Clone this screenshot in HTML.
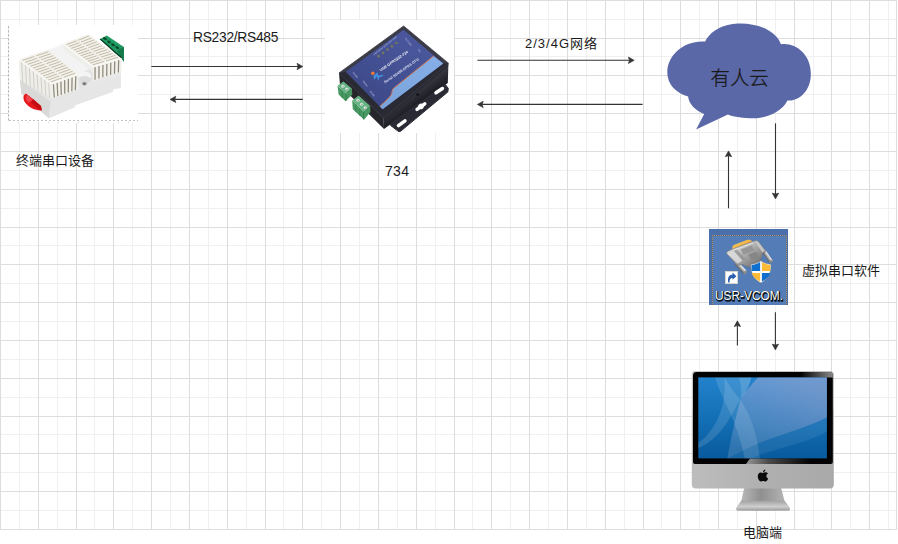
<!DOCTYPE html>
<html lang="zh-CN">
<head>
<meta charset="utf-8">
<title>734 串口组网示意图</title>
<style>
html,body{margin:0;padding:0;background:#fff;}
body{width:898px;height:544px;overflow:hidden;position:relative;font-family:"Liberation Sans","Noto Sans CJK SC",sans-serif;color:#1a1a1a;}
#canvas{position:absolute;left:0;top:0;width:898px;height:544px;}
#canvas svg{display:block;}
.t{position:absolute;white-space:nowrap;font-size:13px;line-height:16px;height:16px;margin:0;}
.c{text-align:center;}
#l1{left:193px;top:30px;font-size:13.8px;letter-spacing:-0.28px;}
#l2{left:525px;top:36px;letter-spacing:1.0px;}
#l3{left:16px;top:153px;}
#l4{left:385px;top:163px;font-size:14px;letter-spacing:0.3px;}
#l5{left:802px;top:263px;}
#l6{left:743px;top:525px;}
#l7{left:710.6px;top:64px;font-size:19.4px;line-height:28px;height:28px;color:#1a1a1a;font-weight:300;-webkit-text-stroke:0.3px #1a1a1a;}

</style>
</head>
<body>
<div id="canvas">
<svg width="898" height="544" viewBox="0 0 898 544">
<rect width="898" height="544" fill="#ffffff"/>
<g id="grid">
<path d="M19 0h1v530h-1zM57 0h1v530h-1zM94 0h1v530h-1zM132 0h1v530h-1zM170 0h1v530h-1zM208 0h1v530h-1zM246 0h1v530h-1zM283 0h1v530h-1zM321 0h1v530h-1zM359 0h1v530h-1zM397 0h1v530h-1zM435 0h1v530h-1zM472 0h1v530h-1zM510 0h1v530h-1zM548 0h1v530h-1zM586 0h1v530h-1zM624 0h1v530h-1zM661 0h1v530h-1zM699 0h1v530h-1zM737 0h1v530h-1zM775 0h1v530h-1zM813 0h1v530h-1zM850 0h1v530h-1zM888 0h1v530h-1zM0 19h897v1h-897zM0 56h897v1h-897zM0 94h897v1h-897zM0 132h897v1h-897zM0 170h897v1h-897zM0 208h897v1h-897zM0 245h897v1h-897zM0 283h897v1h-897zM0 321h897v1h-897zM0 359h897v1h-897zM0 397h897v1h-897zM0 434h897v1h-897zM0 472h897v1h-897zM0 510h897v1h-897z" fill="#f0f0f0" shape-rendering="crispEdges"/>
<path d="M0 0h1v530h-1zM38 0h1v530h-1zM76 0h1v530h-1zM113 0h1v530h-1zM151 0h1v530h-1zM189 0h1v530h-1zM227 0h1v530h-1zM265 0h1v530h-1zM302 0h1v530h-1zM340 0h1v530h-1zM378 0h1v530h-1zM416 0h1v530h-1zM454 0h1v530h-1zM491 0h1v530h-1zM529 0h1v530h-1zM567 0h1v530h-1zM605 0h1v530h-1zM643 0h1v530h-1zM680 0h1v530h-1zM718 0h1v530h-1zM756 0h1v530h-1zM794 0h1v530h-1zM831 0h1v530h-1zM869 0h1v530h-1zM0 0h897v1h-897zM0 38h897v1h-897zM0 75h897v1h-897zM0 113h897v1h-897zM0 151h897v1h-897zM0 189h897v1h-897zM0 227h897v1h-897zM0 264h897v1h-897zM0 302h897v1h-897zM0 340h897v1h-897zM0 378h897v1h-897zM0 416h897v1h-897zM0 453h897v1h-897zM0 491h897v1h-897zM0 529h897v1h-897zM896 0h1v530h-1z" fill="#dddddd" shape-rendering="crispEdges"/>
</g>
<g id="sensor">
<defs>
<filter id="sblur" x="-5%" y="-5%" width="110%" height="110%"><feGaussianBlur stdDeviation="0.45"/></filter>
<linearGradient id="sbase" x1="0" y1="0" x2="1" y2="0"><stop offset="0" stop-color="#e2e2e2"/><stop offset="1" stop-color="#e9e9e9"/></linearGradient>
</defs>
<rect x="8" y="25" width="130" height="98" fill="#ffffff"/>
<path d="M8.5 26V120.5" fill="none" stroke="#b9b9b9" stroke-width="1" stroke-dasharray="2.7 1.3"/>
<path d="M9 120.5H138" fill="none" stroke="#c2c2c2" stroke-width="1" stroke-dasharray="2 2"/>
<path d="M18 122.5H138" fill="none" stroke="#d0d0d0" stroke-width="1" stroke-dasharray="1 9"/>
<path d="M137.5 30V120" fill="none" stroke="#f1f1f1" stroke-width="1" stroke-dasharray="1 9"/>
<g filter="url(#sblur)">
<path d="M19.60 60.00L20.00 80.00L21.50 94.00L48.80 118.20L74.50 107.20L75.50 105.00L113.00 91.80L113.30 89.00L120.60 88.00L121.30 59.00L92.00 66.00L78.00 75.00L52.00 84.00z" fill="url(#sbase)" />
<path d="M20.00 80.00L21.50 94.00L48.80 118.20L50.50 101.50z" fill="#d9d9d7" />
<path d="M50.50 101.50L48.80 118.20L74.50 107.20L75.50 105.00L113.00 91.80L113.30 89.00L120.60 88.00L121.00 76.00L80.00 90.00z" fill="#e6e6e6" />
<path d="M48.40 50.00L63.40 44.00L93.00 66.80L93.00 80.00L80.00 90.00L78.60 74.40z" fill="#f3f3f3" />
<path d="M78.00 75.00L93.00 66.50L93.00 80.00L80.00 90.00z" fill="#e3e3e3" />
<ellipse cx="84.5" cy="76" rx="6.5" ry="4.6" fill="#f4f4f4"/>
<ellipse cx="84.5" cy="79.5" rx="6" ry="3.6" fill="#dcdcdc"/>
<ellipse cx="84.4" cy="83.6" rx="2.3" ry="1.9" fill="#9b9b9b"/>
<ellipse cx="84.4" cy="83.9" rx="1.2" ry="1" fill="#6f6f6f"/>
<path d="M26 93.5 C22.5 95 22.8 99.5 25.5 103 C29 107.5 35 110.8 41.8 110.4 L41 106 L33 99 Z" fill="#e5161b"/>
<path d="M27 95 C25 97 26 100.5 28.5 103 L33 99.5 Z" fill="#f0434a"/>
<path d="M33 99 L41 106 L41.8 110.4 L39 109.5 L31 102.5 Z" fill="#c50f14"/>
<path d="M99.70 39.30L106.80 35.60L123.90 47.10L123.90 61.80L121.60 58.60z" fill="#1d9a60" />
<path d="M117.00 50.50L123.90 47.10L123.90 61.80L121.60 58.60z" fill="#15794a" />
<path d="M99.70 39.30L100.80 38.80L122.20 57.40L121.60 58.90z" fill="#0c3d27" />
<ellipse cx="104.9" cy="38.6" rx="2.1" ry="1.25" transform="rotate(25 104.9 38.6)" fill="#0b4a2c"/>
<ellipse cx="108.9" cy="41.9" rx="2.1" ry="1.25" transform="rotate(25 108.9 41.9)" fill="#0b4a2c"/>
<ellipse cx="113.1" cy="44.8" rx="2.1" ry="1.25" transform="rotate(25 113.1 44.8)" fill="#0b4a2c"/>
<ellipse cx="117.3" cy="47.6" rx="2.1" ry="1.25" transform="rotate(25 117.3 47.6)" fill="#0b4a2c"/>
<path d="M63.20 43.80L88.20 34.00L121.60 58.40L92.90 66.80z" fill="#f3f1ec" />
<path d="M66.85 44.58L76.44 40.89" stroke="#bcb59f" stroke-width="0.9" stroke-linecap="round"/>
<path d="M78.71 40.02L88.55 36.23" stroke="#bcb59f" stroke-width="0.9" stroke-linecap="round"/>
<path d="M69.23 46.41L78.93 42.77" stroke="#bcb59f" stroke-width="0.9" stroke-linecap="round"/>
<path d="M81.23 41.90L91.18 38.16" stroke="#bcb59f" stroke-width="0.9" stroke-linecap="round"/>
<path d="M71.61 48.25L81.42 44.64" stroke="#bcb59f" stroke-width="0.9" stroke-linecap="round"/>
<path d="M83.74 43.79L93.81 40.09" stroke="#bcb59f" stroke-width="0.9" stroke-linecap="round"/>
<path d="M73.99 50.08L83.91 46.52" stroke="#bcb59f" stroke-width="0.9" stroke-linecap="round"/>
<path d="M86.26 45.67L96.44 42.02" stroke="#bcb59f" stroke-width="0.9" stroke-linecap="round"/>
<path d="M76.36 51.91L86.40 48.39" stroke="#bcb59f" stroke-width="0.9" stroke-linecap="round"/>
<path d="M88.78 47.56L99.08 43.94" stroke="#bcb59f" stroke-width="0.9" stroke-linecap="round"/>
<path d="M78.74 53.75L88.89 50.27" stroke="#bcb59f" stroke-width="0.9" stroke-linecap="round"/>
<path d="M91.29 49.44L101.71 45.87" stroke="#bcb59f" stroke-width="0.9" stroke-linecap="round"/>
<path d="M81.12 55.58L91.38 52.14" stroke="#bcb59f" stroke-width="0.9" stroke-linecap="round"/>
<path d="M93.81 51.33L104.34 47.80" stroke="#bcb59f" stroke-width="0.9" stroke-linecap="round"/>
<path d="M83.50 57.41L93.87 54.02" stroke="#bcb59f" stroke-width="0.9" stroke-linecap="round"/>
<path d="M96.32 53.21L106.97 49.73" stroke="#bcb59f" stroke-width="0.9" stroke-linecap="round"/>
<path d="M85.87 59.25L96.36 55.89" stroke="#bcb59f" stroke-width="0.9" stroke-linecap="round"/>
<path d="M98.84 55.10L109.60 51.66" stroke="#bcb59f" stroke-width="0.9" stroke-linecap="round"/>
<path d="M88.25 61.08L98.84 57.77" stroke="#bcb59f" stroke-width="0.9" stroke-linecap="round"/>
<path d="M101.35 56.98L112.23 53.59" stroke="#bcb59f" stroke-width="0.9" stroke-linecap="round"/>
<path d="M90.63 62.91L101.33 59.64" stroke="#bcb59f" stroke-width="0.9" stroke-linecap="round"/>
<path d="M103.87 58.87L114.86 55.52" stroke="#bcb59f" stroke-width="0.9" stroke-linecap="round"/>
<path d="M93.01 64.75L103.82 61.52" stroke="#bcb59f" stroke-width="0.9" stroke-linecap="round"/>
<path d="M106.39 60.76L117.49 57.45" stroke="#bcb59f" stroke-width="0.9" stroke-linecap="round"/>
<path d="M63.20 43.80L92.90 66.80L92.90 72.00L63.40 50.00z" fill="#eeeeea" />
<path d="M92.90 66.80L121.60 58.40L121.30 72.00L92.90 81.00z" fill="#f1f0eb" />
<path d="M95.06 67.47L95.04 79.32" stroke="#8d897a" stroke-width="1.25" stroke-linecap="round"/>
<path d="M98.99 66.32L98.93 78.09" stroke="#8d897a" stroke-width="1.25" stroke-linecap="round"/>
<path d="M102.93 65.17L102.82 76.86" stroke="#8d897a" stroke-width="1.25" stroke-linecap="round"/>
<path d="M106.86 64.02L106.71 75.62" stroke="#8d897a" stroke-width="1.25" stroke-linecap="round"/>
<path d="M110.79 62.86L110.60 74.39" stroke="#8d897a" stroke-width="1.25" stroke-linecap="round"/>
<path d="M114.72 61.71L114.49 73.16" stroke="#8d897a" stroke-width="1.25" stroke-linecap="round"/>
<path d="M118.65 60.56L118.38 71.92" stroke="#8d897a" stroke-width="1.25" stroke-linecap="round"/>
<path d="M63.20 43.80L92.90 66.80L121.60 58.40" fill="none" stroke="#fbfaf7" stroke-width="1.2" stroke-linejoin="round"/>
<path d="M18.90 59.40L48.20 49.60L78.60 74.20L51.40 84.00z" fill="#f3f1ec" />
<path d="M23.01 60.28L34.09 56.55" stroke="#bcb59f" stroke-width="0.9" stroke-linecap="round"/>
<path d="M36.71 55.67L48.09 51.85" stroke="#bcb59f" stroke-width="0.9" stroke-linecap="round"/>
<path d="M25.57 62.23L36.59 58.50" stroke="#bcb59f" stroke-width="0.9" stroke-linecap="round"/>
<path d="M39.20 57.62L50.51 53.80" stroke="#bcb59f" stroke-width="0.9" stroke-linecap="round"/>
<path d="M28.14 64.18L39.10 60.46" stroke="#bcb59f" stroke-width="0.9" stroke-linecap="round"/>
<path d="M41.69 59.57L52.94 55.75" stroke="#bcb59f" stroke-width="0.9" stroke-linecap="round"/>
<path d="M30.71 66.13L41.60 62.41" stroke="#bcb59f" stroke-width="0.9" stroke-linecap="round"/>
<path d="M44.18 61.53L55.36 57.71" stroke="#bcb59f" stroke-width="0.9" stroke-linecap="round"/>
<path d="M33.28 68.09L44.11 64.36" stroke="#bcb59f" stroke-width="0.9" stroke-linecap="round"/>
<path d="M46.67 63.48L57.79 59.66" stroke="#bcb59f" stroke-width="0.9" stroke-linecap="round"/>
<path d="M35.84 70.04L46.61 66.31" stroke="#bcb59f" stroke-width="0.9" stroke-linecap="round"/>
<path d="M49.16 65.43L60.21 61.61" stroke="#bcb59f" stroke-width="0.9" stroke-linecap="round"/>
<path d="M38.41 71.99L49.11 68.27" stroke="#bcb59f" stroke-width="0.9" stroke-linecap="round"/>
<path d="M51.65 67.38L62.63 63.56" stroke="#bcb59f" stroke-width="0.9" stroke-linecap="round"/>
<path d="M40.98 73.94L51.62 70.22" stroke="#bcb59f" stroke-width="0.9" stroke-linecap="round"/>
<path d="M54.14 69.34L65.06 65.51" stroke="#bcb59f" stroke-width="0.9" stroke-linecap="round"/>
<path d="M43.55 75.89L54.12 72.17" stroke="#bcb59f" stroke-width="0.9" stroke-linecap="round"/>
<path d="M56.63 71.29L67.48 67.47" stroke="#bcb59f" stroke-width="0.9" stroke-linecap="round"/>
<path d="M46.11 77.85L56.63 74.12" stroke="#bcb59f" stroke-width="0.9" stroke-linecap="round"/>
<path d="M59.12 73.24L69.91 69.42" stroke="#bcb59f" stroke-width="0.9" stroke-linecap="round"/>
<path d="M48.68 79.80L59.13 76.08" stroke="#bcb59f" stroke-width="0.9" stroke-linecap="round"/>
<path d="M61.61 75.19L72.33 71.37" stroke="#bcb59f" stroke-width="0.9" stroke-linecap="round"/>
<path d="M51.25 81.75L61.64 78.03" stroke="#bcb59f" stroke-width="0.9" stroke-linecap="round"/>
<path d="M64.10 77.15L74.76 73.32" stroke="#bcb59f" stroke-width="0.9" stroke-linecap="round"/>
<path d="M18.90 59.40L51.40 84.00L52.30 98.60L20.00 80.30z" fill="#eeeeea" />
<path d="M21.61 61.95L22.69 81.83" stroke="#d2cfc4" stroke-width="1.0" stroke-linecap="round"/>
<path d="M25.48 64.88L26.54 84.00" stroke="#d2cfc4" stroke-width="1.0" stroke-linecap="round"/>
<path d="M29.35 67.81L30.38 86.18" stroke="#d2cfc4" stroke-width="1.0" stroke-linecap="round"/>
<path d="M33.22 70.74L34.23 88.36" stroke="#d2cfc4" stroke-width="1.0" stroke-linecap="round"/>
<path d="M37.08 73.66L38.07 90.54" stroke="#d2cfc4" stroke-width="1.0" stroke-linecap="round"/>
<path d="M40.95 76.59L41.92 92.72" stroke="#d2cfc4" stroke-width="1.0" stroke-linecap="round"/>
<path d="M44.82 79.52L45.76 94.90" stroke="#d2cfc4" stroke-width="1.0" stroke-linecap="round"/>
<path d="M48.69 82.45L49.61 97.07" stroke="#d2cfc4" stroke-width="1.0" stroke-linecap="round"/>
<path d="M51.40 84.00L78.60 74.20L78.00 89.60L52.30 98.60z" fill="#f1f0eb" />
<path d="M53.45 84.56L54.24 96.92" stroke="#8d897a" stroke-width="1.25" stroke-linecap="round"/>
<path d="M57.18 83.22L57.76 95.69" stroke="#8d897a" stroke-width="1.25" stroke-linecap="round"/>
<path d="M60.90 81.88L61.28 94.46" stroke="#8d897a" stroke-width="1.25" stroke-linecap="round"/>
<path d="M64.63 80.53L64.80 93.22" stroke="#8d897a" stroke-width="1.25" stroke-linecap="round"/>
<path d="M68.35 79.19L68.32 91.99" stroke="#8d897a" stroke-width="1.25" stroke-linecap="round"/>
<path d="M72.08 77.85L71.84 90.76" stroke="#8d897a" stroke-width="1.25" stroke-linecap="round"/>
<path d="M75.81 76.51L75.36 89.52" stroke="#8d897a" stroke-width="1.25" stroke-linecap="round"/>
<path d="M18.90 59.40L51.40 84.00L78.60 74.20" fill="none" stroke="#fbfaf7" stroke-width="1.2" stroke-linejoin="round"/>
</g>
</g>
<g id="device">
<defs>
<filter id="dblur" x="-5%" y="-5%" width="110%" height="110%"><feGaussianBlur stdDeviation="0.4"/></filter>
<filter id="dblur2" x="-5%" y="-5%" width="110%" height="110%"><feGaussianBlur stdDeviation="0.3"/></filter>
<linearGradient id="dface" gradientUnits="userSpaceOnUse" x1="410" y1="30" x2="365" y2="100"><stop offset="0" stop-color="#4a589e"/><stop offset="1" stop-color="#3d4988"/></linearGradient>
<linearGradient id="dside" gradientUnits="userSpaceOnUse" x1="416" y1="92" x2="422" y2="100"><stop offset="0" stop-color="#34353d"/><stop offset="1" stop-color="#1f1f25"/></linearGradient>
<linearGradient id="dlight" gradientUnits="userSpaceOnUse" x1="440" y1="60" x2="382" y2="110"><stop offset="0" stop-color="#86aee6"/><stop offset="1" stop-color="#7aa3dc"/></linearGradient>
</defs>
<rect x="325" y="20" width="129" height="113" fill="#ffffff"/>
<g filter="url(#dblur)">
<path d="M339.00 73.00L383.60 118.00L384.00 129.00L340.00 85.50z" fill="#27272c" />
<path d="M383.60 118.00L448.40 63.20L447.80 83.00L384.00 129.00z" fill="url(#dside)" />
<path d="M383.60 118.00L448.40 63.20L448.20 66.00L383.80 121.00z" fill="#2c2c33" />
<ellipse cx="417.8" cy="94.6" rx="1.6" ry="1.1" fill="#0c0c0f"/>
<path d="M391.00 123.30L445.40 84.60L448.30 88.40L447.80 92.00L400.20 131.60L398.60 131.60L390.40 125.30z" fill="#2b2c35" stroke="#2b2c35" stroke-width="1" stroke-linejoin="round"/>
<rect x="433.60" y="88.85" width="11.2" height="3.5" rx="1.75" transform="rotate(-33 439.2 90.6)" fill="#ffffff"/>
<rect x="414.40" y="104.90" width="13.0" height="3.4" rx="1.7" transform="rotate(-36 420.9 106.6)" fill="#ffffff"/>
<rect x="418.20" y="103.60" width="5.6" height="5.6" rx="2.8" transform="rotate(-36 421.0 106.4)" fill="#ffffff"/>
<rect x="395.90" y="121.45" width="11.6" height="3.5" rx="1.75" transform="rotate(-36 401.7 123.2)" fill="#ffffff"/>
<path d="M339.00 73.00L403.60 26.00L448.40 63.20L383.60 118.00z" fill="#3a3b47" stroke="#3a3b47" stroke-width="0.8" stroke-linejoin="round"/>
<path d="M345.80 71.80L382.60 109.20L443.20 63.40L448.40 63.20L383.60 118.00L339.00 73.00z" fill="#2b2c34" />
<path d="M345.80 71.80L403.50 29.80L443.20 63.40L382.60 109.20z" fill="url(#dface)" />
<path d="M433.6 56.0 L443.2 63.4 L382.6 109.2 L379.8 106.4 C385 101.6 389.6 97.4 391.2 94.8 C392.4 92.6 391.6 90.4 393.2 88.6 Z" fill="url(#dlight)"/>
<path d="M433.6 56.0 L393.2 88.6 C391.6 90.4 392.4 92.6 391.2 94.8 C389.6 97.4 385 101.6 379.8 106.4" fill="none" stroke="#dc7444" stroke-width="0.9"/>
<path d="M337.60 85.80L346.00 93.60L351.90 88.60L352.30 94.60L345.60 101.20L338.60 94.60z" fill="#479864" />
<path d="M337.60 85.80L343.40 81.40L351.90 88.60L346.00 93.60z" fill="#66b283" />
<ellipse cx="342.9" cy="86.3" rx="1.7" ry="1.5" fill="#dfe7e1"/>
<ellipse cx="343.2" cy="86.6" rx="0.8" ry="0.7" fill="#8fa798"/>
<ellipse cx="346.9" cy="89.1" rx="1.7" ry="1.5" fill="#dfe7e1"/>
<ellipse cx="347.2" cy="89.39999999999999" rx="0.8" ry="0.7" fill="#8fa798"/>
<path d="M346 93.6V101" stroke="#2f7a47" stroke-width="0.8"/><path d="M342 90V98" stroke="#2f7a47" stroke-width="0.6"/>
<path d="M352.20 100.60L363.60 111.60L370.20 106.00L370.40 112.00L364.00 119.80L352.80 109.20z" fill="#479864" />
<path d="M352.20 100.60L358.60 95.60L370.20 106.00L363.60 111.60z" fill="#66b283" />
<ellipse cx="358.0" cy="100.2" rx="1.7" ry="1.5" fill="#dfe7e1"/>
<ellipse cx="358.3" cy="100.5" rx="0.8" ry="0.7" fill="#8fa798"/>
<ellipse cx="361.6" cy="104.2" rx="1.7" ry="1.5" fill="#dfe7e1"/>
<ellipse cx="361.90000000000003" cy="104.5" rx="0.8" ry="0.7" fill="#8fa798"/>
<ellipse cx="365.2" cy="107.8" rx="1.7" ry="1.5" fill="#dfe7e1"/>
<ellipse cx="365.5" cy="108.1" rx="0.8" ry="0.7" fill="#8fa798"/>
<path d="M363.6 111.6V119.4" stroke="#2f7a47" stroke-width="0.8"/><path d="M356 104.4V112.2M359.8 108V115.8" stroke="#2f7a47" stroke-width="0.6"/>
<circle cx="378.60" cy="56.20" r="1.35" fill="#74765c"/>
<circle cx="383.05" cy="52.90" r="1.35" fill="#74765c"/>
<circle cx="387.50" cy="49.60" r="1.35" fill="#74765c"/>
<circle cx="391.95" cy="46.30" r="1.35" fill="#74765c"/>
<circle cx="396.40" cy="43.00" r="1.35" fill="#74765c"/>
<circle cx="372.8" cy="73.2" r="1.8" fill="#ef7a35"/>
<path d="M374 76.6 L377.4 73.4 M376 75 L379.6 76.6 L382.4 75.4 M376.4 75 L374.4 78.6 M377.6 76 L378.4 79" fill="none" stroke="#3f97ea" stroke-width="1.4" stroke-linecap="round" stroke-linejoin="round"/>
</g>
<g font-family="'Liberation Sans',sans-serif" fill="#ffffff" opacity="0.88" filter="url(#dblur2)">
<text x="0" y="0" font-size="3.75" font-weight="bold" transform="translate(380.8 71.6) rotate(-34.5)">USR-GPRS232-734</text>
<text x="0" y="0" font-size="3.6" font-weight="bold" fill="#e8ecfa" transform="translate(385.0 83.6) rotate(-34.6)">Serial RS485 GPRS DTU</text>
<text x="0" y="0" font-size="2.1" fill="#cfd6f2" transform="translate(374.2 55.4) rotate(-38.5)">PWR WORK GPRS LINK DATA</text>
<text x="0" y="0" font-size="2.2" fill="#d7dcf4" transform="translate(404.8 38.4) rotate(52)">DC 9-36V</text>
<text x="0" y="0" font-size="2.2" fill="#d7dcf4" transform="translate(417.4 49.6) rotate(52)">SIM</text>
<text x="0" y="0" font-size="2.2" fill="#d7dcf4" transform="translate(352.6 72.8) rotate(52)">RS232</text>
<text x="0" y="0" font-size="2.2" fill="#d7dcf4" transform="translate(362.6 81.2) rotate(52)">Reload</text>
<text x="0" y="0" font-size="2.2" fill="#d7dcf4" transform="translate(369.6 91.4) rotate(52)">RS485</text>
</g>
</g>
<g id="cloud">
<path d="M705.2 41.5 C712 28 728 23.3 741 23.5 C757 23.7 776 30 780.9 44.3 C795 42 811 54 810.8 73.7 C811 90 800 101 787.5 100.5 C781 113 765 118.5 753 118.3 C744 118.3 734 117 727.9 114.5 L696.1 129.6 L704.2 113.9 C695 110 689 104 688.1 96.4 C676 93 667 84 667.3 71.8 C667.5 55 684 40 705.2 41.5 Z" fill="#5a68a8"/>

</g>
<g id="vcom">
<defs>
<linearGradient id="vbody" gradientUnits="userSpaceOnUse" x1="738" y1="243" x2="758" y2="268"><stop offset="0" stop-color="#d6d6d6"/><stop offset="0.45" stop-color="#a8a8a8"/><stop offset="1" stop-color="#6a6a6a"/></linearGradient>
<linearGradient id="vscrew" gradientUnits="userSpaceOnUse" x1="0" y1="-2" x2="0" y2="2"><stop offset="0" stop-color="#f0f0f0"/><stop offset="0.5" stop-color="#b0b0b0"/><stop offset="1" stop-color="#5c5c5c"/></linearGradient>
<linearGradient id="vgold" gradientUnits="userSpaceOnUse" x1="738" y1="240" x2="742" y2="249"><stop offset="0" stop-color="#fbd77a"/><stop offset="1" stop-color="#e89a1c"/></linearGradient>
<filter id="vblur" x="-10%" y="-10%" width="120%" height="120%"><feGaussianBlur stdDeviation="0.35"/></filter>
<filter id="vshadow" x="-20%" y="-40%" width="140%" height="200%"><feGaussianBlur stdDeviation="0.7"/></filter>
</defs>
<rect x="709" y="229" width="79" height="76" fill="#4a6faa"/>
<rect x="712" y="235" width="75" height="70" fill="#547db7"/>
<path d="M712.5 305V235.5H786.5V305" fill="none" stroke="#b9b2a4" stroke-opacity="0.45" stroke-width="1" shape-rendering="crispEdges"/>
<path d="M712.5 305V235.5H786.5V305" fill="none" stroke="#80602f" stroke-opacity="0.85" stroke-width="1" stroke-dasharray="1 1" shape-rendering="crispEdges"/>
<g filter="url(#vblur)">
<!-- gold connector end -->
<path d="M732.3 248.2 C732.2 246.4 732.9 245.4 734.4 244.8 L746.8 240 C748.8 239.4 750.8 239.8 751.8 241 L753 243 L733.2 250.2 Z" fill="url(#vgold)"/>
<!-- left thumbscrew -->
<g transform="translate(740.8 267.8) rotate(47)"><rect x="-7.4" y="-2.2" width="14.4" height="4.4" rx="1.8" fill="url(#vscrew)"/><ellipse cx="6.4" cy="0" rx="1.3" ry="2.0" fill="#8a8a8a"/></g>
<!-- right thumbscrew -->
<g transform="translate(767.6 256.6) rotate(55)"><rect x="-7" y="-2" width="13.6" height="4" rx="1.7" fill="url(#vscrew)"/><ellipse cx="6" cy="0" rx="1.2" ry="1.8" fill="#8a8a8a"/></g>
<!-- hood -->
<path d="M726.7 253.8 C726.5 252.4 727 251.6 728.2 251 L733.6 248.6 L754.6 240.8 C756.2 240.3 757.6 240.6 758.6 241.8 L765.4 250.4 C765.8 251.4 765.4 252.2 764.4 252.6 L762.6 253.2 C762.6 255.2 762 257.4 760.8 259.6 C758.6 263.6 754.6 266.6 750.4 267.2 C747.8 267.4 745.4 266.4 743.6 264.8 L738.4 265 C737.4 265 736.6 264.6 736 263.8 Z" fill="url(#vbody)" stroke="#6b6b6b" stroke-width="0.5"/>
<!-- left wing highlight -->
<path d="M727.4 253.4 L733.6 250.6 L742.6 260.6 L737.6 263.6 Z" fill="#dcdcdc" opacity="0.85"/>
<path d="M733.6 250.6 L736.6 249.4 L745.8 259.4 L742.6 260.6 Z" fill="#8e8e8e" opacity="0.7"/>
<!-- right wing -->
<path d="M754.8 241.4 L758 241.6 L765 250.6 L762.4 252.4 Z" fill="#c9c9c9" opacity="0.9"/>
<!-- panels -->
<path d="M740.8 249.6 L751.6 245.4 L754.6 250.6 L743.6 254.8 Z" fill="#969696"/>
<path d="M748.2 254.6 L756.4 251.8 C757.6 254 758 256.4 757.6 258.6 L751.6 259.6 Z" fill="#868686"/>
<path d="M733.8 250.2 L753.4 242.8" stroke="#efefef" stroke-width="0.8" fill="none"/>
</g>
<!-- UAC shield -->
<g>
<path d="M760.9 260.7 C757.8 263 754.4 264.1 750.9 264.3 C750.6 272.8 753.6 279 760.9 282.9 C768.2 279 771.2 272.8 770.9 264.3 C767.4 264.1 764 263 760.9 260.7 Z" fill="#fbfbfb" stroke="#7f8791" stroke-width="0.6"/>
<path d="M760.1 261.9 C757.4 263.7 754.6 264.7 751.6 264.9 L751.6 271.1 L760.1 271.1 Z" fill="#0f6fce"/>
<path d="M761.9 261.9 C764.6 263.7 767.4 264.7 770.3 264.9 L770.3 271.1 L761.9 271.1 Z" fill="#fcbb36"/>
<path d="M751.7 272.9 L760.1 272.9 L760.1 281.6 C755.6 279.2 752.8 276.4 751.7 272.9 Z" fill="#fcbb36"/>
<path d="M761.9 272.9 L770.2 272.9 C769.2 276.4 766.4 279.2 761.9 281.6 Z" fill="#0f6fce"/>
</g>
<!-- shortcut overlay -->
<rect x="725.5" y="271.5" width="12" height="12" fill="#ffffff" stroke="#d6d2cc" stroke-width="1"/>
<path d="M728.2 282.4 C727.4 277.4 729.2 274.8 732.6 274.6 L732.6 272.6 L736.4 276.2 L732.6 279.8 L732.6 277.9 C730.4 277.9 729.4 279.6 729.6 282.4 Z" fill="#2c5fae"/>
<!-- caption -->
<g font-family="'Liberation Sans','Noto Sans CJK SC',sans-serif" font-size="12" text-anchor="middle">
<text x="749.6" y="300.8" font-size="12.3" textLength="68" lengthAdjust="spacingAndGlyphs" fill="#05080f" stroke="#05080f" stroke-width="1.5" stroke-linejoin="round" opacity="0.9" filter="url(#vshadow)">USR-VCOM.</text>
<text x="749.0" y="299.9" fill="#ffffff" font-size="12.3" textLength="68" lengthAdjust="spacingAndGlyphs">USR-VCOM.</text>
</g>

</g>
<g id="imac">
<defs>
<linearGradient id="mscreen" x1="0" y1="0" x2="0" y2="1"><stop offset="0" stop-color="#2282cb"/><stop offset="0.5" stop-color="#1470b6"/><stop offset="1" stop-color="#085a9d"/></linearGradient>
<linearGradient id="mchin" gradientUnits="userSpaceOnUse" x1="692" y1="0" x2="834" y2="0"><stop offset="0" stop-color="#bdbdbd"/><stop offset="0.5" stop-color="#b0b0b0"/><stop offset="1" stop-color="#a9a9a9"/></linearGradient>
<linearGradient id="mneck" gradientUnits="userSpaceOnUse" x1="741" y1="0" x2="785" y2="0"><stop offset="0" stop-color="#b9b9b9"/><stop offset="0.45" stop-color="#8f8f8f"/><stop offset="1" stop-color="#b4b4b4"/></linearGradient>
<linearGradient id="mbase" x1="0" y1="0" x2="0" y2="1"><stop offset="0" stop-color="#a2a2a2"/><stop offset="0.6" stop-color="#cfcfcf"/><stop offset="1" stop-color="#9c9c9c"/></linearGradient>
<linearGradient id="mgl1" gradientUnits="userSpaceOnUse" x1="800" y1="0" x2="833" y2="0"><stop offset="0" stop-color="#000000"/><stop offset="1" stop-color="#8a8a8a"/></linearGradient>
<linearGradient id="mgl2" gradientUnits="userSpaceOnUse" x1="745" y1="0" x2="812" y2="0"><stop offset="0" stop-color="#9a9a9a"/><stop offset="0.35" stop-color="#4a4a4a"/><stop offset="1" stop-color="#000000"/></linearGradient>
<linearGradient id="mlight" gradientUnits="userSpaceOnUse" x1="800" y1="377" x2="760" y2="458"><stop offset="0" stop-color="#cdb6d4" stop-opacity="0.46"/><stop offset="0.5" stop-color="#dcc4e2" stop-opacity="0.30"/><stop offset="1" stop-color="#f0e6f4" stop-opacity="0.16"/></linearGradient>
<clipPath id="mclip"><rect x="698.3" y="377.4" width="128.6" height="81"/></clipPath>
<filter id="mblur" x="-5%" y="-5%" width="110%" height="110%"><feGaussianBlur stdDeviation="0.7"/></filter>
</defs>
<!-- stand -->
<path d="M744.2 488 L781.2 488 L784.4 500.6 L789.6 507.8 C790.2 509.4 789.6 510.6 788 510.6 L738.2 510.6 C736.6 510.6 736 509.4 736.6 507.8 L741.4 500.6 Z" fill="url(#mneck)"/>
<path d="M741.4 500.8 L784.4 500.8 L789.6 507.8 C790.2 509.4 789.6 510.6 788 510.6 L738.2 510.6 C736.6 510.6 736 509.4 736.6 507.8 Z" fill="url(#mbase)"/>
<!-- body -->
<rect x="691.8" y="371" width="142" height="117.4" rx="4" fill="url(#mchin)"/>
<rect x="692" y="371.2" width="141.6" height="40" rx="3.6" fill="#c9c9c9"/>
<path d="M693 375.4 C693 373.2 694.4 372 696.4 372 L829.4 372 C831.4 372 832.8 373.2 832.8 375.4 L832.8 462 C832.8 463.2 832 464 830.8 464 L695 464 C693.8 464 693 463.2 693 462 Z" fill="#020202"/>
<!-- bezel reflections -->
<path d="M803 372 L829.4 372 C831.4 372 832.8 373.2 832.8 375.4 L832.8 377.6 L800 377.6 Z" fill="url(#mgl1)"/>
<path d="M750 458.4 L812 458.4 L812 464 L746 464 Z" fill="url(#mgl2)"/>
<!-- screen -->
<rect x="698.3" y="377.4" width="128.6" height="81" fill="url(#mscreen)"/>
<g clip-path="url(#mclip)">
<g filter="url(#mblur)">
<!-- glare / big light area (right of the diagonal), lower edge curved -->
<path d="M760.3 375 L830 375 L830 416 C806 428 782 434 762 442 C748 448 737 453 727.2 459 C730 444 734 424 740.5 399 C746 390 753 383 760.3 375 Z" fill="url(#mlight)"/>
<!-- band A: top-left to bottom-right -->
<path d="M714.3 375 L722.8 375 C728 384 734 392 739 398 C746 408 752 420 756 436 C758 446 759.4 452 760 461 L745 461 C743 448 738 432 731 415 C724 400 718 388 714.3 375 Z" fill="#ffffff" opacity="0.12"/>
<!-- band B: crescent from top centre to lower-left -->
<path d="M724 375 L751.4 375 C751 382 748 390 740.5 399 C736 406 733 414 726 424 C718 436 708 444 697 449 L697 444 C706 438 714 428 719 416 C724 404 726 390 724 375 Z" fill="#ffffff" opacity="0.12"/>
<path d="M738 375 L751.4 375 C751 382 748 390 740.5 399 C742 390 741 382 738 375 Z" fill="#ffffff" opacity="0.12"/>
<!-- lower soft sweep -->
<path d="M830 416 C806 428 782 434 762 442 C748 448 737 453 727.2 459 L745 461 C765 450 802 446 830 430 Z" fill="#ffffff" opacity="0.07"/>
</g>
</g>
<!-- apple logo -->
<g fill="#0a0a0a" transform="translate(763 475.6) scale(0.9) translate(-763 -475.6)">
<path d="M765.6 468.8 C765.8 470.2 764.6 471.8 763.0 471.9 C762.8 470.4 764.2 469.0 765.6 468.8 Z"/>
<path d="M767.4 473.4 C766.6 472.4 765.4 472.0 764.4 472.0 C763.2 472.0 762.6 472.6 761.8 472.6 C761.0 472.6 760.2 472.0 759.2 472.1 C757.6 472.2 756.0 473.8 756.0 476.4 C756.0 479.2 757.8 482.2 759.4 482.2 C760.2 482.2 760.8 481.6 761.9 481.6 C763.0 481.6 763.4 482.2 764.4 482.2 C765.8 482.2 767.0 480.2 767.6 478.8 C766.2 478.2 765.6 477.0 765.6 476.0 C765.6 474.8 766.4 473.9 767.4 473.4 Z" transform="translate(1.2 0)"/>
</g>

</g>
<g id="arrows">
<path d="M151.40 66.50L298.00 66.50" stroke="#333333" stroke-width="1.1" fill="none"/><path d="M302.80 66.50L297.00 69.70L298.00 66.50L297.00 63.30z" fill="#333333" stroke="#333333" stroke-width="0.6" stroke-linejoin="round"/>
<path d="M302.80 99.40L174.80 99.40" stroke="#333333" stroke-width="1.1" fill="none"/><path d="M170.00 99.40L175.80 96.20L174.80 99.40L175.80 102.60z" fill="#333333" stroke="#333333" stroke-width="0.6" stroke-linejoin="round"/>
<path d="M477.40 60.30L629.40 60.30" stroke="#333333" stroke-width="1.1" fill="none"/><path d="M634.20 60.30L628.40 63.50L629.40 60.30L628.40 57.10z" fill="#333333" stroke="#333333" stroke-width="0.6" stroke-linejoin="round"/>
<path d="M642.60 104.40L482.20 104.40" stroke="#333333" stroke-width="1.1" fill="none"/><path d="M477.40 104.40L483.20 101.20L482.20 104.40L483.20 107.60z" fill="#333333" stroke="#333333" stroke-width="0.6" stroke-linejoin="round"/>
<path d="M728.50 208.30L728.50 155.70" stroke="#333333" stroke-width="1.1" fill="none"/><path d="M728.50 150.90L731.70 156.70L728.50 155.70L725.30 156.70z" fill="#333333" stroke="#333333" stroke-width="0.6" stroke-linejoin="round"/>
<path d="M775.50 123.30L775.50 194.10" stroke="#333333" stroke-width="1.1" fill="none"/><path d="M775.50 198.90L772.30 193.10L775.50 194.10L778.70 193.10z" fill="#333333" stroke="#333333" stroke-width="0.6" stroke-linejoin="round"/>
<path d="M737.40 345.60L737.40 325.60" stroke="#333333" stroke-width="1.1" fill="none"/><path d="M737.40 320.80L740.60 326.60L737.40 325.60L734.20 326.60z" fill="#333333" stroke="#333333" stroke-width="0.6" stroke-linejoin="round"/>
<path d="M775.40 312.30L775.40 345.10" stroke="#333333" stroke-width="1.1" fill="none"/><path d="M775.40 349.90L772.20 344.10L775.40 345.10L778.60 344.10z" fill="#333333" stroke="#333333" stroke-width="0.6" stroke-linejoin="round"/>
</g>
</svg>
</div>
<div class="t" id="l1">RS232/RS485</div>
<div class="t" id="l2">2/3/4G网络</div>
<div class="t" id="l3">终端串口设备</div>
<div class="t" id="l4">734</div>
<div class="t" id="l5">虚拟串口软件</div>
<div class="t" id="l6">电脑端</div>
<div class="t" id="l7">有人云</div>

</body>
</html>
